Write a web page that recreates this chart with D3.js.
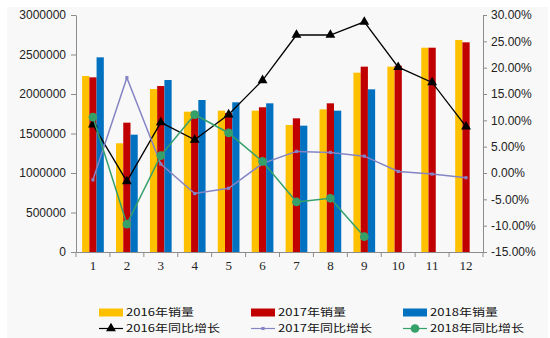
<!DOCTYPE html>
<html>
<head>
<meta charset="utf-8">
<script src="https://cdn.jsdelivr.net/npm/d3@7"></script>
<style>
  html, body { margin: 0; padding: 0; background: #ffffff; }
  svg { display: block; }
</style>
</head>
<body>
<svg id="chart" width="550" height="338"></svg>
<script>
// Monthly sales (units) and year-on-year growth (%)
const months = ["1", "2", "3", "4", "5", "6", "7", "8", "9", "10", "11", "12"];
const sales2016 = [2228000, 1376000, 2063000, 1776000, 1789000, 1789000, 1608000, 1806000, 2270000, 2346000, 2586000, 2684000];
const sales2017 = [2211000, 1637000, 2101000, 1776000, 1760000, 1832000, 1692000, 1882000, 2346000, 2358000, 2586000, 2654000];
const sales2018 = [2464000, 1485000, 2177000, 1924000, 1895000, 1882000, 1599000, 1789000, 2059000, null, null, null];
const growth2016 = [9.2, -1.6, 9.6, 6.3, 11.1, 17.6, 26.2, 26.2, 28.7, 20.1, 17.2, 8.8];
const growth2017 = [-1.3, 18.1, 1.7, -3.9, -2.9, 1.8, 4.1, 3.9, 3.2, 0.3, -0.2, -0.9];
const growth2018 = [10.6, -9.7, 3.3, 11.1, 7.6, 2.2, -5.5, -4.8, -12.1, null, null, null];
const leftTicks = [0, 500000, 1000000, 1500000, 2000000, 2500000, 3000000];
const rightTicks = [-15, -10, -5, 0, 5, 10, 15, 20, 25, 30];

const barSeries = [
  { name: "2016年销量", values: sales2016, color: "#FFC000" },
  { name: "2017年销量", values: sales2017, color: "#C00000" },
  { name: "2018年销量", values: sales2018, color: "#0070C0" }
];
const lineSeries = [
  { name: "2016年同比增长", values: growth2016, color: "#000000", marker: "triangle" },
  { name: "2017年同比增长", values: growth2017, color: "#8585C5", marker: "square" },
  { name: "2018年同比增长", values: growth2018, color: "#35A06A", marker: "circle" }
];

const svg = d3.select("#chart");
const W = 550, H = 338;
const plot = { left: 76, right: 483, top: 15, bottom: 252 };
const axisColor = "#8c8c8c";
const fontLatin = "'Liberation Sans', Arial, sans-serif";
const fontCJK = "'Noto Sans CJK SC', 'Liberation Sans', sans-serif";

// page panel
svg.append("rect").attr("x", 7).attr("y", 7).attr("width", W - 9).attr("height", H - 7)
  .attr("fill", "#f8f8f8");

const x = d3.scaleBand().domain(months).range([plot.left, plot.right]).padding(0);
const bw = x.bandwidth();
const inner = d3.scaleBand().domain(barSeries.map(s => s.name))
  .range([bw * 0.18, bw * 0.82]).padding(0);
const yL = d3.scaleLinear().domain([0, 3000000]).range([plot.bottom, plot.top]);
const yR = d3.scaleLinear().domain([-15, 30]).range([plot.bottom, plot.top]);

// bars
barSeries.forEach(s => {
  svg.append("g").selectAll("rect")
    .data(months.map((m, i) => ({ m, v: s.values[i] })).filter(d => d.v != null))
    .join("rect")
    .attr("x", d => x(d.m) + inner(s.name))
    .attr("width", inner.bandwidth())
    .attr("y", d => yL(d.v))
    .attr("height", d => yL(0) - yL(d.v))
    .attr("fill", s.color);
});

// axes
const styleAxis = g => {
  g.selectAll(".domain").attr("stroke", axisColor);
  g.selectAll(".tick line").attr("stroke", axisColor);
  g.selectAll("text").attr("fill", "#222");
};

svg.append("g").attr("transform", `translate(${plot.left},0)`)
  .call(d3.axisLeft(yL).tickValues(leftTicks).tickSize(5).tickSizeOuter(0).tickPadding(5)
    .tickFormat(d3.format("d")))
  .call(styleAxis)
  .call(g => g.selectAll("text").attr("font-family", fontLatin).attr("font-size", 12));

svg.append("g").attr("transform", `translate(${plot.right},0)`)
  .call(d3.axisRight(yR).tickValues(rightTicks).tickSize(4).tickSizeOuter(0).tickPadding(4)
    .tickFormat(d => d3.format(".2f")(d).replace("−", "-") + "%"))
  .call(styleAxis)
  .call(g => g.selectAll("text").attr("font-family", fontLatin).attr("font-size", 12));

const xAxis = svg.append("g").attr("transform", `translate(0,${plot.bottom})`)
  .call(d3.axisBottom(x).tickSize(0).tickPadding(9))
  .call(styleAxis)
  .call(g => g.selectAll("text").attr("font-family", "'Liberation Serif', 'DejaVu Serif', serif")
    .attr("font-size", 13));
// category boundary ticks
xAxis.append("g").selectAll("line")
  .data(months.map(m => x(m)).concat([plot.right]))
  .join("line")
  .attr("x1", d => d).attr("x2", d => d)
  .attr("y1", 0).attr("y2", 5)
  .attr("stroke", axisColor);

// markers
const symbolFor = {
  triangle: d3.symbol().type(d3.symbolTriangle).size(42),
  square: d3.symbol().type(d3.symbolSquare).size(10),
  circle: d3.symbol().type(d3.symbolCircle).size(60)
};

lineSeries.forEach(s => {
  const pts = months.map((m, i) => ({ m, v: s.values[i] })).filter(d => d.v != null);
  const line = d3.line().x(d => x(d.m) + bw / 2).y(d => yR(d.v));
  svg.append("path").datum(pts)
    .attr("d", line)
    .attr("fill", "none")
    .attr("stroke", s.color)
    .attr("stroke-width", s.marker === "triangle" ? 1.3 : 1.5);
  svg.append("g").selectAll("path")
    .data(pts).join("path")
    .attr("transform", d => `translate(${x(d.m) + bw / 2},${yR(d.v)})`)
    .attr("d", symbolFor[s.marker])
    .attr("fill", s.color);
});

// legend
const legCols = [99, 251, 403];
const legRows = [312.5, 328.5];
const legendWidths = { bar: 68, line: 94 };
const legendFontSize = 10.5;

barSeries.forEach((s, i) => {
  const g = svg.append("g").attr("transform", `translate(${legCols[i]},${legRows[0]})`);
  g.append("rect").attr("x", 0).attr("y", -4).attr("width", 24).attr("height", 8).attr("fill", s.color);
  g.append("text").attr("x", 27).attr("y", 0).attr("dy", "0.36em")
    .attr("font-family", fontCJK).attr("font-size", legendFontSize).attr("fill", "#111")
    .attr("textLength", legendWidths.bar).attr("lengthAdjust", "spacingAndGlyphs")
    .text(s.name);
});

lineSeries.forEach((s, i) => {
  const g = svg.append("g").attr("transform", `translate(${legCols[i]},${legRows[1]})`);
  g.append("line").attr("x1", 0).attr("x2", 24).attr("y1", 0).attr("y2", 0)
    .attr("stroke", s.color).attr("stroke-width", 1.2);
  g.append("path").attr("transform", "translate(12,0)").attr("d", symbolFor[s.marker]).attr("fill", s.color);
  g.append("text").attr("x", 27).attr("y", 0).attr("dy", "0.36em")
    .attr("font-family", fontCJK).attr("font-size", legendFontSize).attr("fill", "#111")
    .attr("textLength", legendWidths.line).attr("lengthAdjust", "spacingAndGlyphs")
    .text(s.name);
});
</script>
</body>
</html>
